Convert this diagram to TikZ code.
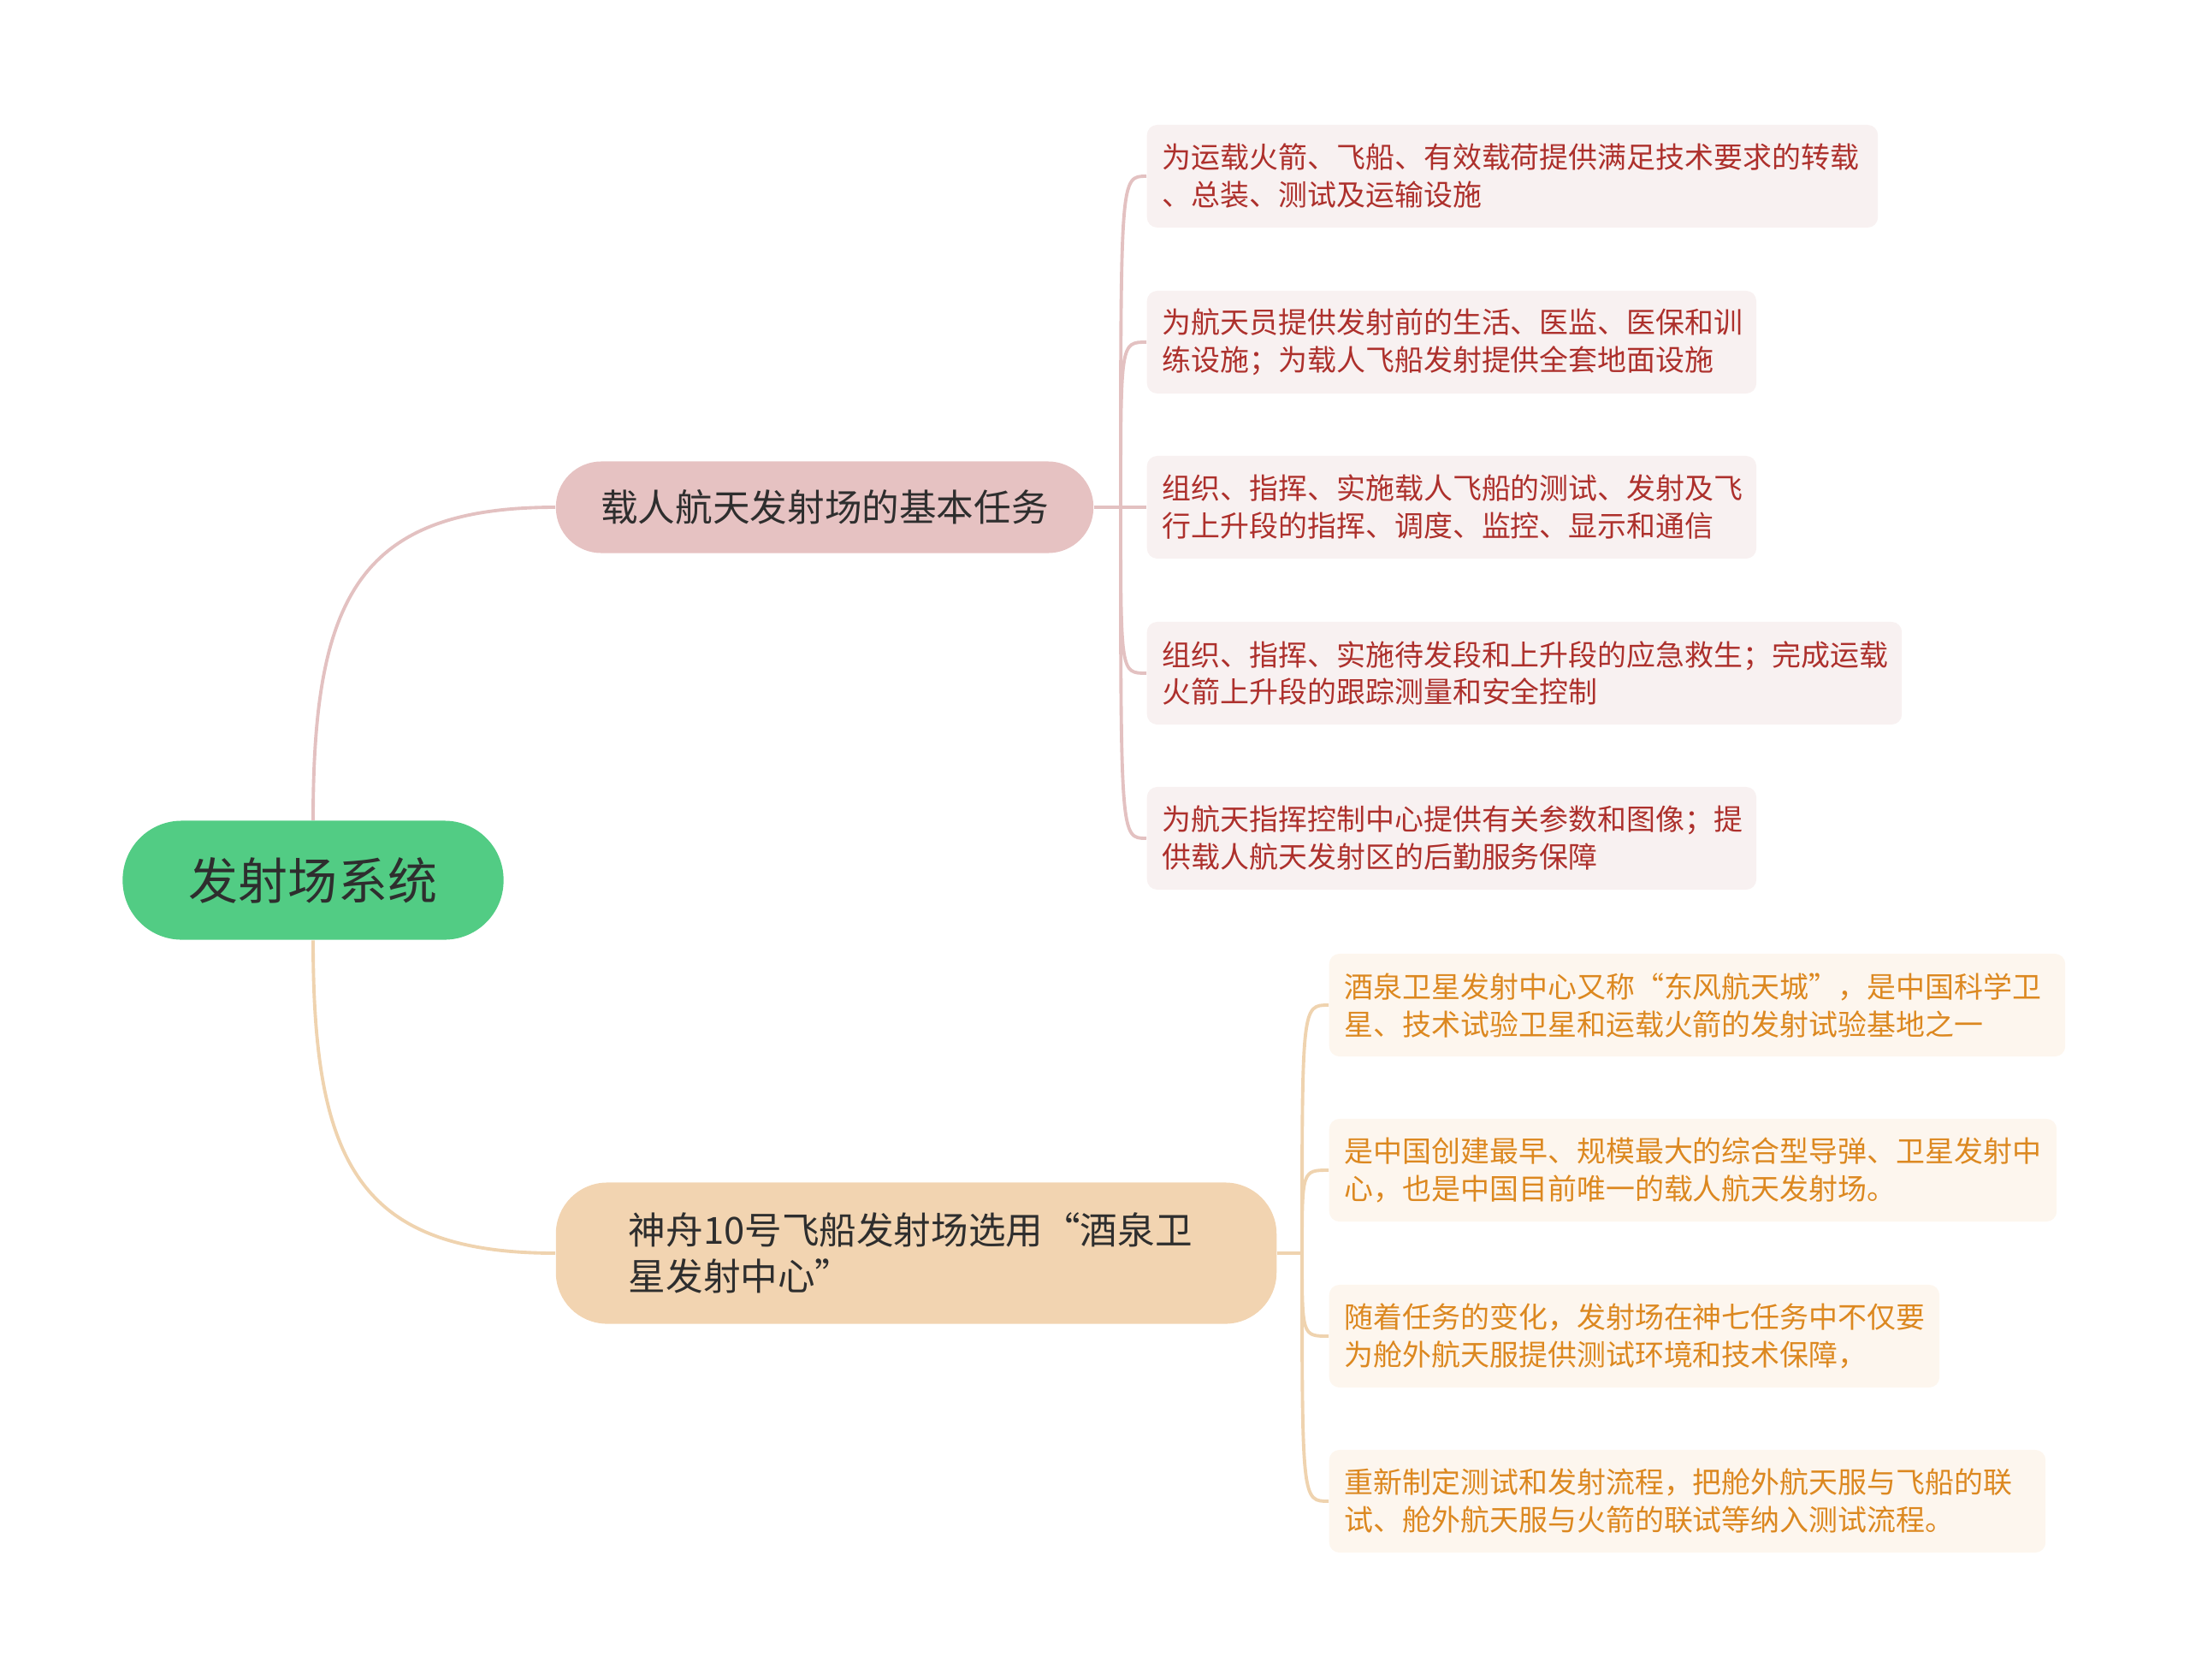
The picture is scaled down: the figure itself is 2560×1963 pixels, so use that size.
\documentclass[tikz,border=0pt]{standalone}
\usepackage{fontspec}
\newfontfamily\cjk{Noto Sans CJK SC}
\definecolor{rootgreen}{HTML}{52CC84}
\definecolor{pinkfill}{HTML}{E6C2C2}
\definecolor{peachfill}{HTML}{F2D4B1}
\definecolor{pinkleaf}{HTML}{F8F1F1}
\definecolor{peachleaf}{HTML}{FDF6EE}
\definecolor{pinktext}{HTML}{AD302C}
\definecolor{peachtext}{HTML}{DC8820}
\definecolor{pinkline}{HTML}{E3C1C1}
\definecolor{peachline}{HTML}{EFD3AF}
\definecolor{darktext}{HTML}{2E2E2E}
\tikzset{
  rootbox/.style={fill=rootgreen, text=darktext, rounded corners=0.69cm, inner sep=0pt,
    minimum width=4.45cm, minimum height=1.39cm, font=\cjk\fontsize{16.5pt}{20pt}\selectfont},
  topicA/.style={fill=pinkfill, text=darktext, rounded corners=0.53cm, inner sep=0pt,
    minimum width=6.28cm, minimum height=1.07cm, font=\cjk\fontsize{12.4pt}{15.4pt}\selectfont},
  topicB/.style={fill=peachfill, text=darktext, rounded corners=0.6cm, inner xsep=0.85cm,
    minimum height=1.65cm, align=left, font=\cjk\fontsize{12.4pt}{15.4pt}\selectfont},
  leafA/.style={fill=pinkleaf, text=pinktext, rounded corners=0.12cm, inner xsep=0.18cm,
    minimum height=1.2cm, align=left, anchor=west, font=\cjk\fontsize{9.65pt}{12.5pt}\selectfont},
  leafB/.style={leafA, fill=peachleaf, text=peachtext},
  linkA/.style={draw=pinkline, line width=1.1pt},
  linkB/.style={draw=peachline, line width=1.1pt}
}
\begin{document}
\begin{tikzpicture}[x=0.01cm, y=-0.01cm]
  \useasboundingbox (0,0) rectangle (2560,1963);

  \node[rootbox] (root) at (366,1029) {发射场系统};
  \node[topicA] (task) at (964,593) {载人航天发射场的基本任务};
  \node[topicB, text width=6.72cm] (site) at (1071,1465) {神舟10号飞船发射场选用“酒泉卫\\星发射中心”};

  % basic tasks
  \node[leafA, text width=8.18cm] (a1) at (1340,206) {为运载火箭、飞船、有效载荷提供满足技术要求的转载\\、总装、测试及运输设施};
  \node[leafA, text width=6.76cm] (a2) at (1340,400) {为航天员提供发射前的生活、医监、医保和训\\练设施；为载人飞船发射提供全套地面设施};
  \node[leafA, text width=6.76cm] (a3) at (1340,593) {组织、指挥、实施载人飞船的测试、发射及飞\\行上升段的指挥、调度、监控、显示和通信};
  \node[leafA, text width=8.46cm] (a4) at (1340,787) {组织、指挥、实施待发段和上升段的应急救生；完成运载\\火箭上升段的跟踪测量和安全控制};
  \node[leafA, text width=6.76cm] (a5) at (1340,980) {为航天指挥控制中心提供有关参数和图像；提\\供载人航天发射区的后勤服务保障};

  % launch site
  \node[leafB, text width=8.24cm] (b1) at (1553,1175) {酒泉卫星发射中心又称“东风航天城”，是中国科学卫\\星、技术试验卫星和运载火箭的发射试验基地之一};
  \node[leafB, text width=8.14cm] (b2) at (1553,1368) {是中国创建最早、规模最大的综合型导弹、卫星发射中\\心，也是中国目前唯一的载人航天发射场。};
  \node[leafB, text width=6.77cm] (b3) at (1553,1562) {随着任务的变化，发射场在神七任务中不仅要\\为舱外航天服提供测试环境和技术保障，};
  \node[leafB, text width=8.01cm] (b4) at (1553,1755) {重新制定测试和发射流程，把舱外航天服与飞船的联\\试、舱外航天服与火箭的联试等纳入测试流程。};

  \coordinate (ja) at (1310,593);
  \coordinate (jb) at (1522,1465);

  \draw[linkA] (root.north) .. controls +(0,-260) and +(-230,0) .. (task.west);
  \draw[linkB] (root.south) .. controls +(0,260) and +(-230,0) .. (site.west);

  \draw[linkA] (task.east) -- (a3.west);
  \foreach \n in {a1,a2,a4,a5}
    \draw[linkA] (ja) .. controls (ja |- \n.west) and (ja |- \n.west) .. (\n.west);

  \draw[linkB] (site.east) -- (jb);
  \foreach \n in {b1,b2,b3,b4}
    \draw[linkB] (jb) .. controls (jb |- \n.west) and (jb |- \n.west) .. (\n.west);
\end{tikzpicture}
\end{document}
